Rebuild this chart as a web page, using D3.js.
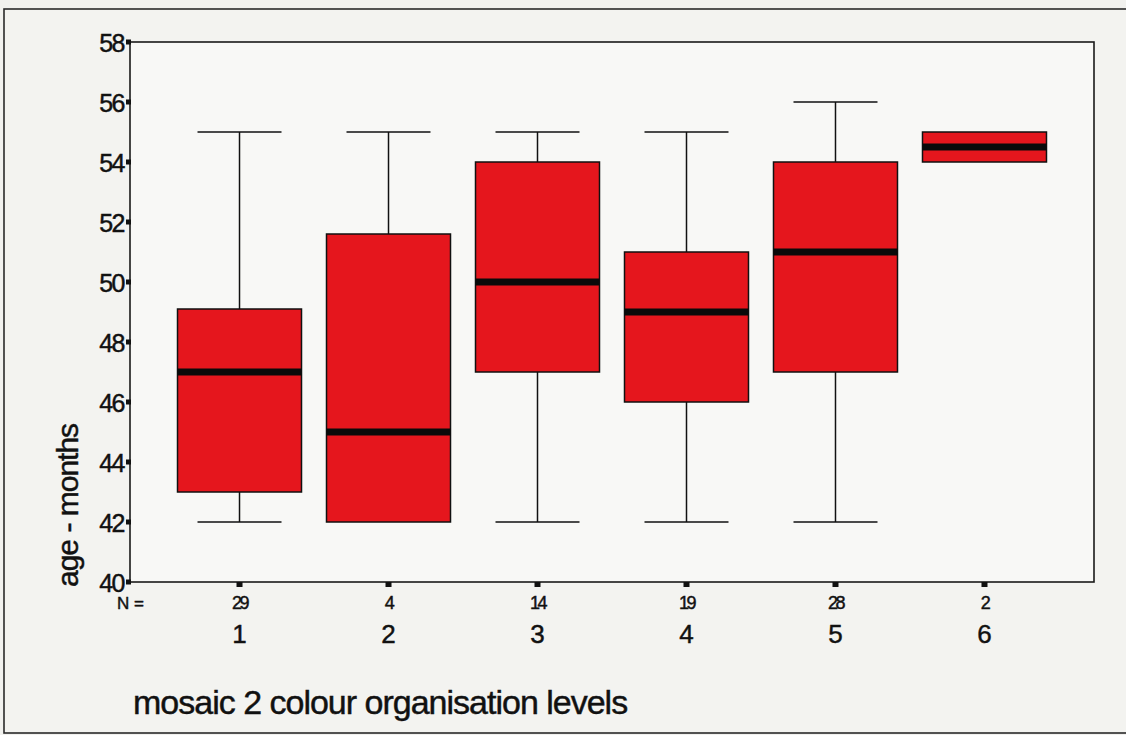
<!DOCTYPE html>
<html>
<head>
<meta charset="utf-8">
<script src="https://cdn.jsdelivr.net/npm/d3@7"></script>
<style>
  html, body { margin: 0; padding: 0; background: #f1f1ee; }
  svg { display: block; }
  text { font-family: "Liberation Sans", Arial, sans-serif; fill: #111; stroke: #111; stroke-width: 0.45px; }
</style>
</head>
<body>
<svg id="chart" width="1126" height="735"></svg>
<script>
// Age (months) by mosaic colour organisation level: five-number summaries
const categories = ["1", "2", "3", "4", "5", "6"];
const counts     = [29, 4, 14, 19, 28, 2];
const whiskerLow = [42, 42, 42, 42, 42, 54];
const q1         = [43, 42, 47, 46, 47, 54];
const medians    = [47, 45, 50, 49, 51, 54.5];
const q3         = [49.1, 51.6, 54, 51, 54, 55];
const whiskerHigh= [55, 55, 55, 55, 56, 55];
const yTicks     = [40, 42, 44, 46, 48, 50, 52, 54, 56, 58];

const svg = d3.select("#chart");
const plot = { left: 130, right: 1094, top: 42, bottom: 582 };

const x = d3.scalePoint().domain(categories).range([plot.left, plot.right]).padding(0.735);
const y = d3.scaleLinear().domain([40, 58]).range([plot.bottom, plot.top]);

const boxW = 124, capW = 84;
const boxFill = "#e5161d";

// outer page frame
svg.append("rect")
  .attr("x", 4).attr("y", 9).attr("width", 1130).attr("height", 724)
  .attr("fill", "#f3f3f0").attr("stroke", "#2a2a2a").attr("stroke-width", 1.6);

// plot frame
svg.append("rect")
  .attr("x", plot.left).attr("y", plot.top)
  .attr("width", plot.right - plot.left).attr("height", plot.bottom - plot.top)
  .attr("fill", "#f8f8f6").attr("stroke", "#1a1a1a").attr("stroke-width", 1.6);

const rows = categories.map((c, i) => ({
  c, n: counts[i], lo: whiskerLow[i], q1: q1[i], med: medians[i], q3: q3[i], hi: whiskerHigh[i]
}));

const g = svg.append("g");
const box = g.selectAll("g.box").data(rows).join("g").attr("class", "box");

// whiskers
box.append("line")
  .attr("x1", d => x(d.c)).attr("x2", d => x(d.c))
  .attr("y1", d => y(d.hi)).attr("y2", d => y(d.q3))
  .attr("stroke", "#111").attr("stroke-width", 1.5);
box.append("line")
  .attr("x1", d => x(d.c)).attr("x2", d => x(d.c))
  .attr("y1", d => y(d.q1)).attr("y2", d => y(d.lo))
  .attr("stroke", "#111").attr("stroke-width", 1.5);
// caps (only where the whisker extends past the box)
box.filter(d => d.hi > d.q3).append("line")
  .attr("x1", d => x(d.c) - capW / 2).attr("x2", d => x(d.c) + capW / 2)
  .attr("y1", d => y(d.hi)).attr("y2", d => y(d.hi))
  .attr("stroke", "#111").attr("stroke-width", 1.5);
box.filter(d => d.lo < d.q1).append("line")
  .attr("x1", d => x(d.c) - capW / 2).attr("x2", d => x(d.c) + capW / 2)
  .attr("y1", d => y(d.lo)).attr("y2", d => y(d.lo))
  .attr("stroke", "#111").attr("stroke-width", 1.5);

// boxes
box.append("rect")
  .attr("x", d => x(d.c) - boxW / 2).attr("width", boxW)
  .attr("y", d => y(d.q3)).attr("height", d => y(d.q1) - y(d.q3))
  .attr("fill", boxFill).attr("stroke", "#111").attr("stroke-width", 1.5);

// medians
box.append("line")
  .attr("x1", d => x(d.c) - boxW / 2).attr("x2", d => x(d.c) + boxW / 2)
  .attr("y1", d => y(d.med)).attr("y2", d => y(d.med))
  .attr("stroke", "#0a0a0a").attr("stroke-width", 7);

// y axis ticks (small square markers) and labels
const yAxis = svg.append("g");
yAxis.selectAll("rect").data(yTicks).join("rect")
  .attr("x", plot.left - 4).attr("y", d => y(d) - 2.5)
  .attr("width", 5).attr("height", 5).attr("fill", "#111");
yAxis.selectAll("text").data(yTicks).join("text")
  .attr("x", plot.left - 6).attr("y", d => y(d) + 10)
  .attr("text-anchor", "end").attr("font-size", 25).attr("letter-spacing", -1.5)
  .text(d => d);

// x axis square markers, N counts and category labels
const xAxis = svg.append("g");
xAxis.selectAll("rect").data(categories).join("rect")
  .attr("x", d => x(d) - 3).attr("y", plot.bottom)
  .attr("width", 6).attr("height", 5).attr("fill", "#111");
xAxis.append("text")
  .attr("x", 117).attr("y", 609).attr("font-size", 17)
  .text("N =");
xAxis.selectAll("text.n").data(rows).join("text").attr("class", "n")
  .attr("x", d => x(d.c)).attr("y", 609)
  .attr("text-anchor", "middle").attr("font-size", 18).attr("letter-spacing", -2.5)
  .text(d => d.n);
xAxis.selectAll("text.cat").data(categories).join("text").attr("class", "cat")
  .attr("x", d => x(d)).attr("y", 643)
  .attr("text-anchor", "middle").attr("font-size", 26)
  .text(d => d);

// axis titles
svg.append("text")
  .attr("transform", "translate(78,587) rotate(-90)")
  .attr("font-size", 30).attr("letter-spacing", -1)
  .text("age - months");
svg.append("text")
  .attr("x", 133).attr("y", 714)
  .attr("font-size", 34).attr("letter-spacing", -1)
  .text("mosaic 2 colour organisation levels");
</script>
</body>
</html>
